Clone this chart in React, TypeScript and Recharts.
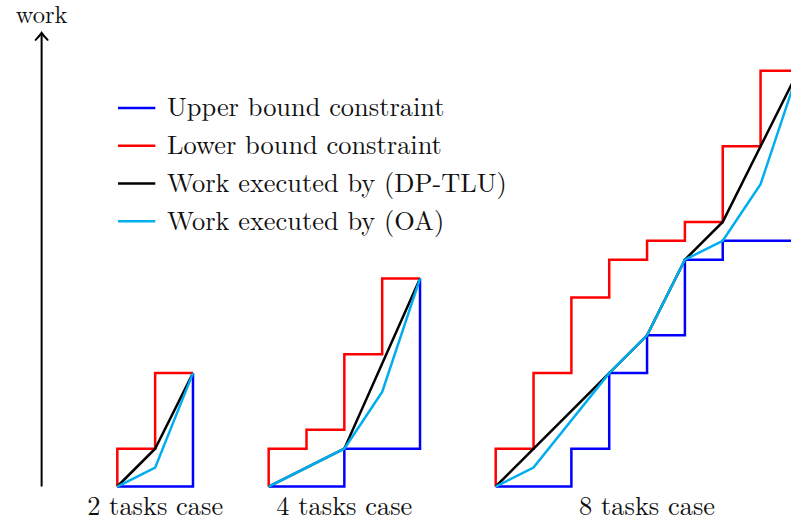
import React from "react";
import { LineChart, Line, XAxis, YAxis, ReferenceLine, ReferenceDot, Legend } from "recharts";

// x: task step index (three groups side by side), y: work units
const UPPER_2 = [{ x: 0, y: 0 }, { x: 2, y: 0 }, { x: 2, y: 6 }];
const LOWER_2 = [{ x: 0, y: 0 }, { x: 0, y: 2 }, { x: 1, y: 2 }, { x: 1, y: 6 }, { x: 2, y: 6 }];
const DPTLU_2 = [{ x: 0, y: 0 }, { x: 1, y: 2 }, { x: 2, y: 6 }];
const OA_2 = [{ x: 0, y: 0 }, { x: 1, y: 1 }, { x: 2, y: 6 }];

const UPPER_4 = [{ x: 4, y: 0 }, { x: 6, y: 0 }, { x: 6, y: 2 }, { x: 8, y: 2 }, { x: 8, y: 11 }];
const LOWER_4 = [
  { x: 4, y: 0 }, { x: 4, y: 2 }, { x: 5, y: 2 }, { x: 5, y: 3 }, { x: 6, y: 3 },
  { x: 6, y: 7 }, { x: 7, y: 7 }, { x: 7, y: 11 }, { x: 8, y: 11 },
];
const DPTLU_4 = [{ x: 4, y: 0 }, { x: 6, y: 2 }, { x: 8, y: 11 }];
const OA_4 = [{ x: 4, y: 0 }, { x: 6, y: 2 }, { x: 7, y: 5 }, { x: 8, y: 11 }];

const UPPER_8 = [
  { x: 10, y: 0 }, { x: 12, y: 0 }, { x: 12, y: 2 }, { x: 13, y: 2 }, { x: 13, y: 6 },
  { x: 14, y: 6 }, { x: 14, y: 8 }, { x: 15, y: 8 }, { x: 15, y: 12 }, { x: 16, y: 12 },
  { x: 16, y: 13 }, { x: 18, y: 13 }, { x: 18, y: 22 },
];
const LOWER_8 = [
  { x: 10, y: 0 }, { x: 10, y: 2 }, { x: 11, y: 2 }, { x: 11, y: 6 }, { x: 12, y: 6 },
  { x: 12, y: 10 }, { x: 13, y: 10 }, { x: 13, y: 12 }, { x: 14, y: 12 }, { x: 14, y: 13 },
  { x: 15, y: 13 }, { x: 15, y: 14 }, { x: 16, y: 14 }, { x: 16, y: 18 }, { x: 17, y: 18 },
  { x: 17, y: 22 }, { x: 18, y: 22 },
];
const DPTLU_8 = [
  { x: 10, y: 0 }, { x: 13, y: 6 }, { x: 14, y: 8 }, { x: 15, y: 12 },
  { x: 16, y: 14 }, { x: 17, y: 18 }, { x: 18, y: 22 },
];
const OA_8 = [
  { x: 10, y: 0 }, { x: 11, y: 1 }, { x: 13, y: 6 }, { x: 14, y: 8 },
  { x: 15, y: 12 }, { x: 16, y: 13 }, { x: 17, y: 16 }, { x: 18, y: 22 },
];

const CASE_LABELS = ["2 tasks case", "4 tasks case", "8 tasks case"];
const CASE_CENTERS = [1, 6, 14];

const SERIES_NAMES = [
  "Upper bound constraint",
  "Lower bound constraint",
  "Work executed by (DP-TLU)",
  "Work executed by (OA)",
];
const SERIES_COLORS = ["#0000ff", "#ff0000", "#000000", "#00aeef"];
const SERIES_DATA = [
  [UPPER_2, UPPER_4, UPPER_8],
  [LOWER_2, LOWER_4, LOWER_8],
  [DPTLU_2, DPTLU_4, DPTLU_8],
  [OA_2, OA_4, OA_8],
];

const FONT = "'Latin Modern Roman', 'Liberation Serif', serif";

const AxisArrow = (props: any) => {
  const { x1, y1, x2, y2 } = props;
  const tipY = Math.min(y1, y2);
  const baseY = Math.max(y1, y2);
  return (
    <g>
      <line x1={x1} y1={baseY} x2={x2} y2={tipY + 1} stroke="#000" strokeWidth={2} />
      <path
        d={`M ${x1 - 6} ${tipY + 7} Q ${x1 - 2} ${tipY + 3} ${x1} ${tipY} Q ${x1 + 2} ${tipY + 3} ${x1 + 6} ${tipY + 7}`}
        fill="none"
        stroke="#000"
        strokeWidth={2}
        strokeLinecap="round"
      />
      <text x={x1} y={tipY - 9.5} textAnchor="middle" style={{ fontFamily: FONT, fontSize: 24.5 }} fill="#111">
        work
      </text>
    </g>
  );
};

const CaseLabel = ({ viewBox, value }: any) => (
  <text
    x={viewBox.x}
    y={viewBox.y + 28.5}
    textAnchor="middle"
    style={{ fontFamily: FONT, fontSize: 26.4 }}
    fill="#111"
  >
    {value}
  </text>
);

const LegendBox = () => (
  <svg width={400} height={4 * 37.8} style={{ display: "block", overflow: "visible" }}>
    {SERIES_NAMES.map((name, i) => (
      <g key={name} transform={`translate(0, ${i * 37.8 + 18.9})`}>
        <line x1={0} y1={0} x2={37.3} y2={0} stroke={SERIES_COLORS[i]} strokeWidth={2.5} />
        <text x={49} y={8.4} style={{ fontFamily: FONT, fontSize: 26.4 }} fill="#111">
          {name}
        </text>
      </g>
    ))}
  </svg>
);

export default function App() {
  return (
    <div style={{ position: "absolute", left: 0, top: 0 }}>
      <LineChart width={791} height={520} margin={{ top: 0, right: 0, bottom: 0, left: 0 }}>
        <XAxis type="number" dataKey="x" domain={[-3.1, 17.804]} allowDataOverflow hide />
        <YAxis type="number" dataKey="y" domain={[-1.772, 25.74]} allowDataOverflow hide />
        <ReferenceLine
          segment={[{ x: -2, y: 0 }, { x: -2, y: 24 }]}
          ifOverflow="visible"
          shape={AxisArrow}
        />
        {SERIES_DATA.map((groups, si) =>
          groups.map((data, gi) => (
            <Line
              key={`${si}-${gi}`}
              data={data}
              dataKey="y"
              type="linear"
              stroke={SERIES_COLORS[si]}
              strokeWidth={2.5}
              strokeLinejoin="miter"
              dot={false}
              activeDot={false}
              legendType="none"
              isAnimationActive={false}
            />
          ))
        )}
        {CASE_LABELS.map((label, i) => (
          <ReferenceDot
            key={label}
            x={CASE_CENTERS[i]}
            y={0}
            r={0}
            fill="none"
            stroke="none"
            ifOverflow="visible"
            label={<CaseLabel value={label} />}
          />
        ))}
        <Legend
          layout="vertical"
          align="center"
          verticalAlign="middle"
          content={<LegendBox />}
          wrapperStyle={{ left: 117.7, top: 89.4, width: "auto" }}
        />
      </LineChart>
    </div>
  );
}
